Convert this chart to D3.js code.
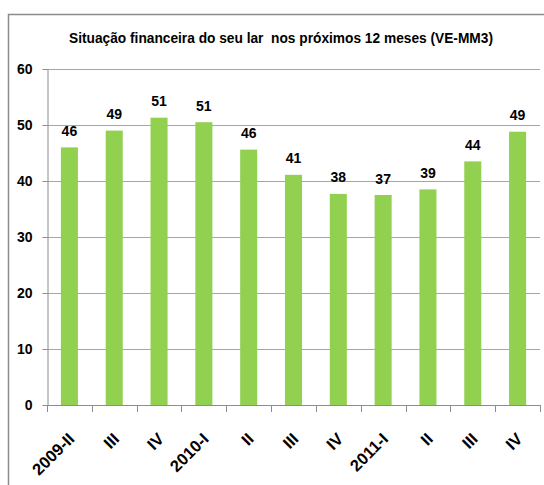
<!DOCTYPE html>
<html>
<head>
<meta charset="utf-8">
<script src="https://cdn.jsdelivr.net/npm/d3@7"></script>
<style>
  body { margin: 0; background: #fff; }
  svg { display: block; font-family: "Liberation Sans", Arial, sans-serif; }
</style>
</head>
<body>
<div class="chart"></div>
<script>
'use strict';

// chart data
const title = "Situação financeira do seu lar  nos próximos 12 meses (VE-MM3)";
const categories = ["2009-II", "III", "IV", "2010-I", "II", "III", "IV", "2011-I", "II", "III", "IV"];
const values = [46.0, 49.0, 51.3, 50.5, 45.6, 41.1, 37.7, 37.5, 38.5, 43.5, 48.8];
const valueLabels = ["46", "49", "51", "51", "46", "41", "38", "37", "39", "44", "49"];
const yTicks = [0, 10, 20, 30, 40, 50, 60];

document.addEventListener('DOMContentLoaded', () => {
  const width = 544, height = 485;
  const plot = {left: 47, right: 540, top: 69, bottom: 405};
  const barColor = "#92d050";
  const gridColor = "#a6a6a6";

  const svg = d3.select(".chart")
    .append("svg")
    .attr("width", width)
    .attr("height", height);

  // outer chart frame (runs off the right and bottom edge)
  svg.append("rect")
    .attr("x", 8.5)
    .attr("y", 14.5)
    .attr("width", 600)
    .attr("height", 600)
    .style("fill", "none")
    .style("stroke", "#8c8c8c")
    .style("stroke-width", 1.5);

  // scales
  const idx = d3.range(categories.length);
  const xScale = d3.scaleBand()
    .domain(idx)
    .range([plot.left, plot.right])
    .paddingInner(0.62)
    .paddingOuter(0.31);
  const yScale = d3.scaleLinear().domain([0, 60]).range([plot.bottom, plot.top]);
  const step = xScale.step();

  // gridlines
  svg.append("g")
    .selectAll("line")
    .data(yTicks.filter(t => t > 0))
    .enter()
    .append("line")
    .attr("x1", plot.left)
    .attr("x2", plot.right)
    .attr("y1", d => Math.round(yScale(d)) + 0.5)
    .attr("y2", d => Math.round(yScale(d)) + 0.5)
    .style("stroke", gridColor)
    .style("stroke-width", 1.2);

  // y axis
  const yAxis = d3.axisLeft(yScale)
    .tickValues(yTicks)
    .tickSize(5)
    .tickPadding(10)
    .tickSizeOuter(0);
  const gy = svg.append("g")
    .attr("id", "y-axis")
    .attr("transform", `translate(${plot.left + 0.5},0)`)
    .call(yAxis);
  gy.select(".domain").style("stroke", "#8c8c8c");
  gy.selectAll(".tick line").style("stroke", "#8c8c8c");
  gy.selectAll("text")
    .style("font-size", "14px")
    .style("font-weight", "bold")
    .style("fill", "#000");

  // bars
  svg.append("g")
    .selectAll("rect")
    .data(values)
    .enter()
    .append("rect")
    .attr("x", (d, i) => xScale(i))
    .attr("y", d => yScale(d))
    .attr("width", xScale.bandwidth())
    .attr("height", d => yScale(0) - yScale(d))
    .style("fill", barColor);

  // data labels
  svg.append("g")
    .selectAll("text")
    .data(values)
    .enter()
    .append("text")
    .attr("x", (d, i) => xScale(i) + xScale.bandwidth() / 2)
    .attr("y", d => yScale(d) - 11.5)
    .attr("text-anchor", "middle")
    .style("font-size", "14px")
    .style("font-weight", "bold")
    .text((d, i) => valueLabels[i]);

  // x axis line and ticks at category boundaries
  const gx = svg.append("g").attr("id", "x-axis");
  gx.append("line")
    .attr("x1", plot.left)
    .attr("x2", plot.right)
    .attr("y1", plot.bottom + 0.5)
    .attr("y2", plot.bottom + 0.5)
    .style("stroke", "#8c8c8c")
    .style("stroke-width", 1.2);
  const bounds = idx.map(i => xScale(i) - step * 0.31).concat([plot.right]);
  gx.selectAll(".xtick")
    .data(bounds)
    .enter()
    .append("line")
    .attr("class", "xtick")
    .attr("x1", d => Math.round(d) + 0.5)
    .attr("x2", d => Math.round(d) + 0.5)
    .attr("y1", plot.bottom)
    .attr("y2", plot.bottom + 7)
    .style("stroke", "#8c8c8c");

  // rotated category labels
  gx.selectAll(".xlabel")
    .data(categories)
    .enter()
    .append("text")
    .attr("class", "xlabel")
    .attr("text-anchor", "end")
    .attr("transform", (d, i) => `translate(${xScale(i) + xScale.bandwidth() / 2 + 6},440) rotate(-45)`)
    .style("font-size", "16.5px")
    .style("font-weight", "bold")
    .text(d => d);

  // title
  svg.append("text")
    .attr("x", 281)
    .attr("y", 43)
    .attr("text-anchor", "middle")
    .attr("textLength", 424)
    .attr("lengthAdjust", "spacingAndGlyphs")
    .style("font-size", "15px")
    .style("font-weight", "bold")
    .style("white-space", "pre")
    .text(title);
});
</script>
</body>
</html>
